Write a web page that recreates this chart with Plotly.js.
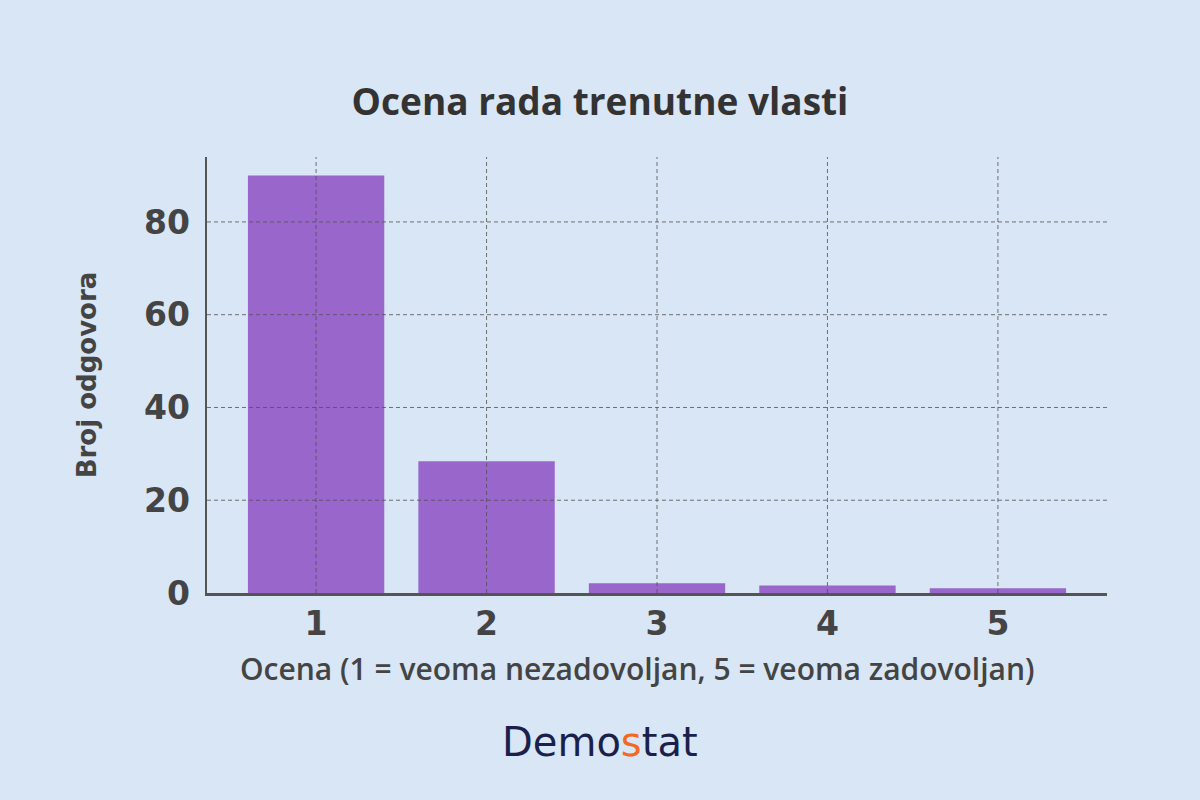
<!DOCTYPE html>
<html>
<head>
<meta charset="utf-8">
<script src="https://cdn.plot.ly/plotly-3.0.1.min.js"></script>
<style>
html,body{margin:0;padding:0;background:#d9e6f5;}
#chart{width:1200px;height:800px;}
</style>
</head>
<body>
<div id="chart"></div>
<script>
const categories = [1, 2, 3, 4, 5];
const counts = [90, 28.4, 2.1, 1.6, 1.0];
const yTicks = [0, 20, 40, 60, 80];
const yGridVals = [20, 40, 60, 80];
const titleText = "Ocena rada trenutne vlasti";
const xTitle = "Ocena (1 = veoma nezadovoljan, 5 = veoma zadovoljan)";
const yTitle = "Broj odgovora";

const gridStyle = {color: "rgba(80,80,80,0.8)", width: 1, dash: "4px,3px"};
const shapes = [];
yGridVals.forEach(v => shapes.push({type: "line", layer: "above", xref: "paper", x0: 0, x1: 1, yref: "y", y0: v, y1: v, line: gridStyle}));
categories.forEach(c => shapes.push({type: "line", layer: "above", xref: "x", x0: c, x1: c, yref: "paper", y0: 0, y1: 1, line: gridStyle}));

const trace = {
  type: "bar", x: categories, y: counts,
  marker: {color: "#9966cc", line: {width: 0}},
  width: 0.8, hoverinfo: "skip"
};

const layout = {
  width: 1200, height: 800,
  paper_bgcolor: "#d9e6f5", plot_bgcolor: "#d9e6f5",
  margin: {l: 207, r: 93, t: 157, b: 207},
  showlegend: false,
  title: {text: "<b>" + titleText + "</b>", x: 0.5, xanchor: "center", y: 0.872, yanchor: "middle",
    font: {family: "Open Sans, sans-serif", size: 37, color: "#333333"}},
  xaxis: {
    range: [0.36, 5.64], tickvals: categories, ticktext: categories.map(String),
    showgrid: false, zeroline: false, showline: true, linecolor: "#555555", linewidth: 2.5,
    ticks: "", ticklabelstandoff: 0,
    tickfont: {family: "DejaVu Sans, sans-serif", size: 33, color: "#444444", weight: "bold"}
  },
  yaxis: {
    range: [0, 94.0], tickvals: yTicks, ticktext: yTicks.map(String),
    showgrid: false, zeroline: false, showline: true, linecolor: "#555555", linewidth: 2.5,
    ticks: "", ticklabelstandoff: 8,
    tickfont: {family: "DejaVu Sans, sans-serif", size: 33, color: "#444444", weight: "bold"},
    title: {text: "<b>" + yTitle + "</b>", standoff: 40, font: {family: "DejaVu Sans, sans-serif", size: 26, color: "#444444"}}
  },
  shapes: shapes,
  annotations: [{
    xref: "paper", yref: "paper", x: (637 - 207) / 900, y: (593 - 668) / 436, xanchor: "center", yanchor: "middle",
    showarrow: false, text: xTitle,
    font: {family: "Open Sans, sans-serif", size: 30, color: "#444444", weight: 600}
  }, {
    xref: "paper", yref: "paper", x: (600 - 207) / 900, y: -0.342, xanchor: "center", yanchor: "middle",
    showarrow: false,
    text: "<span style='color:#1b1f4b'>Demo</span><span style='color:#f26a21'>s</span><span style='color:#1b1f4b'>tat</span>",
    font: {family: "DejaVu Sans, sans-serif", size: 40, color: "#1b1f4b"}
  }]
};

Plotly.newPlot("chart", [trace], layout, {displayModeBar: false, staticPlot: true});
</script>
</body>
</html>
